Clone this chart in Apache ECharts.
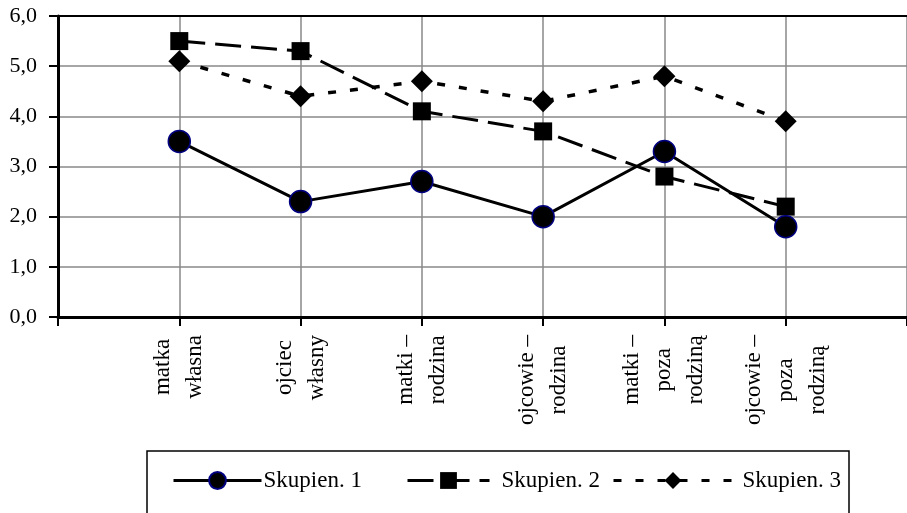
<!DOCTYPE html>
<html>
<head>
<meta charset="utf-8">
<script src="https://cdn.jsdelivr.net/npm/echarts@6/dist/echarts.min.js"></script>
<style>html,body{margin:0;padding:0;background:#fff;}#c{width:907px;height:513px;}</style>
</head>
<body>
<div id="c"></div>
<script>
var categories = ['matka\nwłasna', 'ojciec\nwłasny', 'matki –\nrodzina', 'ojcowie –\nrodzina', 'matki –\npoza\nrodziną', 'ojcowie –\npoza\nrodziną'];
var seriesNames = ['Skupien. 1', 'Skupien. 2', 'Skupien. 3'];
var skupien1 = [3.5, 2.3, 2.7, 2.0, 3.3, 1.8];
var skupien2 = [5.5, 5.3, 4.1, 3.7, 2.8, 2.2];
var skupien3 = [5.1, 4.4, 4.7, 4.3, 4.8, 3.9];
var yTicks = [0, 1, 2, 3, 4, 5, 6];

var FONT = 'Liberation Serif';
var axisCats = [''].concat(categories).concat(['']);
function pad(arr) { return [null].concat(arr).concat([null]); }

var chart = echarts.init(document.getElementById('c'), null, {renderer: 'canvas'});
var legendBase = {
  orient: 'horizontal', top: 469, padding: 0, itemHeight: 21,
  textStyle: {fontFamily: FONT, fontSize: 23, color: '#000'},
  lineStyle: {width: 3}
};
chart.setOption({
  animation: false,
  backgroundColor: '#fff',
  grid: {left: 58, top: 16, width: 852, height: 301, containLabel: false},
  xAxis: [{
    type: 'category', data: axisCats, boundaryGap: false, position: 'bottom',
    axisLine: {lineStyle: {color: '#000', width: 3}},
    axisTick: {show: true, length: 9, lineStyle: {color: '#000', width: 2}, interval: 0},
    splitLine: {show: true, interval: 0, lineStyle: {color: '#888', width: 1.5}},
    axisLabel: {
      interval: 0, rotate: 90, margin: 18,
      formatter: function (v) {
        if (!v) return '';
        return v.split('\n').map(function (s) { return '{c|' + s + '}'; }).join('\n');
      },
      rich: {c: {align: 'center', fontFamily: FONT, fontSize: 23, lineHeight: 32, color: '#000'}}
    }
  }, {
    type: 'category', data: axisCats, boundaryGap: false, position: 'top',
    axisLine: {lineStyle: {color: '#000', width: 2}},
    axisTick: {show: false}, axisLabel: {show: false}, splitLine: {show: false}
  }],
  yAxis: {
    type: 'value', min: yTicks[0], max: yTicks[yTicks.length - 1], interval: 1,
    axisLine: {show: true, lineStyle: {color: '#000', width: 3}},
    axisTick: {show: true, length: 9, lineStyle: {color: '#000', width: 2}},
    splitLine: {show: true, lineStyle: {color: '#888', width: 1.5}},
    axisLabel: {
      margin: 21, color: '#000', fontFamily: FONT, fontSize: 22,
      formatter: function (v) { return v.toFixed(1).replace('.', ','); }
    }
  },
  legend: [
    Object.assign({}, legendBase, {left: 172, itemWidth: 88, data: [seriesNames[0]], textStyle: Object.assign({}, legendBase.textStyle, {padding: [0, 0, 0, -3]})}),
    Object.assign({}, legendBase, {left: 406, itemWidth: 82, data: [seriesNames[1]], textStyle: Object.assign({}, legendBase.textStyle, {padding: [0, 0, 0, 7]})}),
    Object.assign({}, legendBase, {left: 612, itemWidth: 119, data: [seriesNames[2]], textStyle: Object.assign({}, legendBase.textStyle, {padding: [0, 0, 0, 5]})})
  ],
  graphic: [{
    type: 'rect', shape: {x: 147, y: 451, width: 702, height: 75},
    style: {fill: 'none', stroke: '#000', lineWidth: 1.5}, silent: true
  }],
  series: [{
    name: seriesNames[0], type: 'line', data: pad(skupien1), z: 4,
    symbol: 'circle', symbolSize: 22,
    itemStyle: {color: '#000', borderColor: '#000080', borderWidth: 1.5},
    lineStyle: {color: '#000', width: 3, type: 'solid'}
  }, {
    name: seriesNames[1], type: 'line', data: pad(skupien2), z: 2,
    symbol: 'rect', symbolSize: 18,
    itemStyle: {color: '#000'},
    lineStyle: {color: '#000', width: 3, type: [26, 10]}
  }, {
    name: seriesNames[2], type: 'line', data: pad(skupien3), z: 3,
    symbol: 'diamond', symbolSize: 22,
    itemStyle: {color: '#000'},
    lineStyle: {color: '#000', width: 3.5, type: [8, 14]}
  }]
});
</script>
</body>
</html>
